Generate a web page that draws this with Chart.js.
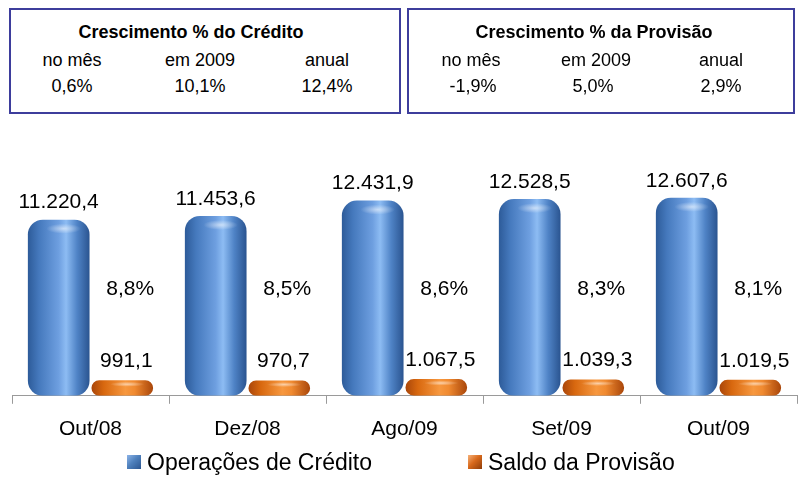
<!DOCTYPE html>
<html>
<head>
<meta charset="utf-8">
<script src="https://cdn.jsdelivr.net/npm/chart.js@4.4.0/dist/chart.umd.min.js"></script>
<style>
html,body{margin:0;padding:0;background:#fff;}
#wrap{position:relative;width:808px;height:504px;overflow:hidden;font-family:"Liberation Sans",Arial,sans-serif;color:#000;background:#fff;}
#chart{position:absolute;left:0;top:0;}
.box{position:absolute;top:8px;height:106px;border:2px solid #3d3d9c;box-sizing:border-box;background:#fff;}
.t{position:absolute;transform:translate(-50%,-50%);white-space:nowrap;line-height:1;font-size:18px;}
.t.b{font-weight:bold;}
.leg{position:absolute;top:462px;transform:translateY(-50%);white-space:nowrap;line-height:1;font-size:23px;}
.ico{position:absolute;width:14px;height:14px;top:455px;box-sizing:border-box;}
</style>
</head>
<body>
<div id="wrap">
<canvas id="chart" width="808" height="504"></canvas>
</div>
<script>
// ---- data ----
const categories = ['Out/08', 'Dez/08', 'Ago/09', 'Set/09', 'Out/09'];
const seriesNames = ['Operações de Crédito', 'Saldo da Provisão'];
const creditoValues = [11220.4, 11453.6, 12431.9, 12528.5, 12607.6];
const provisaoValues = [991.1, 970.7, 1067.5, 1039.3, 1019.5];
const razaoPct = [8.8, 8.5, 8.6, 8.3, 8.1];

const boxTitles = ['Crescimento % do Crédito', 'Crescimento % da Provisão'];
const periodLabels = ['no mês', 'em 2009', 'anual'];
const creditoGrowth = [0.6, 10.1, 12.4];
const provisaoGrowth = [-1.9, 5.0, 2.9];

// ---- helpers ----
function fmt(v, dec) {
  const neg = v < 0;
  const s = Math.abs(v).toFixed(dec);
  let [i, d] = s.split('.');
  i = i.replace(/\B(?=(\d{3})+(?!\d))/g, '.');
  return (neg ? '-' : '') + i + (d ? ',' + d : '');
}

const wrap = document.getElementById('wrap');
function addEl(parent, cls, text, css) {
  const e = document.createElement('div');
  e.className = cls;
  if (text !== null) e.textContent = text;
  Object.assign(e.style, css);
  parent.appendChild(e);
  return e;
}

// ---- summary boxes ----
const boxSpecs = [
  { left: 9, width: 392, titleX: 182, labX: [63, 191, 318], valX: [63, 191, 318], vals: creditoGrowth },
  { left: 407, width: 388, titleX: 187, labX: [64, 189, 314], valX: [66, 186, 314], vals: provisaoGrowth }
];
boxSpecs.forEach((b, k) => {
  const box = addEl(wrap, 'box', null, { left: b.left + 'px', width: b.width + 'px' });
  addEl(box, 't b', boxTitles[k], { left: (b.titleX - 2) + 'px', top: (23.5 - 2) + 'px' });
  periodLabels.forEach((p, j) => {
    addEl(box, 't', p, { left: (b.labX[j] - 2) + 'px', top: (52 - 2) + 'px' });
    addEl(box, 't', fmt(b.vals[j], 1) + '%', { left: (b.valX[j] - 2) + 'px', top: (78 - 2) + 'px' });
  });
});

// ---- chart ----
const CAT_PCT = 0.81;
const BAR_PCT = 0.97;
const gradStops = [
  [[0, '#2d5b99'], [0.18, '#4579bd'], [0.5, '#6e9fe0'], [0.62, '#8dbcf3'], [0.8, '#4f83c6'], [1, '#2a5490']],
  [[0, '#a9460a'], [0.2, '#d8680f'], [0.55, '#f7983f'], [0.7, '#f08a30'], [1, '#a9460a']]
];
function barFill(ctx) {
  const chart = ctx.chart;
  const xs = chart.scales.x;
  const stops = gradStops[ctx.datasetIndex];
  if (!xs || !chart.chartArea || ctx.dataIndex === undefined) return stops[2][1];
  const catW = xs.width / categories.length;
  const center = xs.getPixelForValue(ctx.dataIndex);
  const groupW = catW * CAT_PCT;
  const slotW = groupW / 2;
  const slotL = center - groupW / 2 + ctx.datasetIndex * slotW;
  const w = slotW * BAR_PCT;
  const l = slotL + (slotW - w) / 2;
  const g = chart.ctx.createLinearGradient(l, 0, l + w, 0);
  stops.forEach(s => g.addColorStop(s[0], s[1]));
  return g;
}

const labelPlugin = {
  id: 'labelPlugin',
  afterDatasetsDraw(chart) {
    const c = chart.ctx;
    const m0 = chart.getDatasetMeta(0);
    const m1 = chart.getDatasetMeta(1);
    // sheen on top of bars
    [m0, m1].forEach((m, di) => {
      m.data.forEach(el => {
        const w = el.width;
        const cx = el.x + w * 0.08;
        const cy = el.y + (di === 0 ? 9 : 4);
        const rx = w * 0.28, ry = di === 0 ? 5 : 2.5;
        c.save();
        c.translate(cx, cy);
        c.scale(1, ry / rx);
        const g = c.createRadialGradient(0, 0, 0, 0, 0, rx);
        g.addColorStop(0, 'rgba(255,255,255,0.55)');
        g.addColorStop(1, 'rgba(255,255,255,0)');
        c.fillStyle = g;
        c.beginPath();
        c.arc(0, 0, rx, 0, Math.PI * 2);
        c.fill();
        c.restore();
      });
    });
    c.save();
    c.fillStyle = '#000';
    c.textAlign = 'center';
    c.textBaseline = 'middle';
    c.font = '21px "Liberation Sans", Arial, sans-serif';
    m0.data.forEach((el, i) => {
      c.fillText(fmt(creditoValues[i], 1), el.x, el.y - 17);
    });
    m1.data.forEach((el, i) => {
      c.fillText(fmt(provisaoValues[i], 1), el.x + 4, el.y - 19);
      c.fillText(fmt(razaoPct[i], 1) + '%', el.x + 8, chart.chartArea.bottom - 107);
    });
    c.restore();
  }
};

const chart = new Chart(document.getElementById('chart'), {
  type: 'bar',
  data: {
    labels: categories,
    datasets: [
      {
        label: seriesNames[0],
        data: creditoValues,
        backgroundColor: barFill,
        borderWidth: 0,
        borderRadius: 15,
        borderSkipped: false,
        categoryPercentage: CAT_PCT,
        barPercentage: BAR_PCT
      },
      {
        label: seriesNames[1],
        data: provisaoValues,
        backgroundColor: barFill,
        borderWidth: 0,
        borderRadius: 20,
        borderSkipped: false,
        categoryPercentage: CAT_PCT,
        barPercentage: BAR_PCT
      }
    ]
  },
  options: {
    responsive: false,
    animation: false,
    devicePixelRatio: 1,
    layout: { padding: { top: 176, left: 12, right: 11, bottom: 49 } },
    plugins: {
      legend: { display: false },
      tooltip: { enabled: false }
    },
    scales: {
      x: {
        grid: { display: true, drawOnChartArea: false, drawTicks: true, tickLength: 8, color: '#9a9a9a', offset: true },
        border: { display: true, color: '#9a9a9a', width: 1 },
        ticks: { color: '#000', padding: 13, font: { size: 21, family: '"Liberation Sans", Arial, sans-serif' } }
      },
      y: { display: false, min: 0, max: 14000 }
    }
  },
  plugins: [labelPlugin]
});

// ---- legend (built from dataset labels) ----
const legendPos = [{ icon: 127, text: 147 }, { icon: 468, text: 488 }];
const iconFills = [
  'linear-gradient(135deg,#8db4e8 0%,#4f81bd 45%,#2b5590 100%)',
  'linear-gradient(135deg,#f6b27a 0%,#d8691c 45%,#8e3c08 100%)'
];
chart.data.datasets.forEach((ds, i) => {
  addEl(wrap, 'ico', null, { left: legendPos[i].icon + 'px', background: iconFills[i] });
  addEl(wrap, 'leg', ds.label, { left: legendPos[i].text + 'px' });
});
</script>
</body>
</html>
